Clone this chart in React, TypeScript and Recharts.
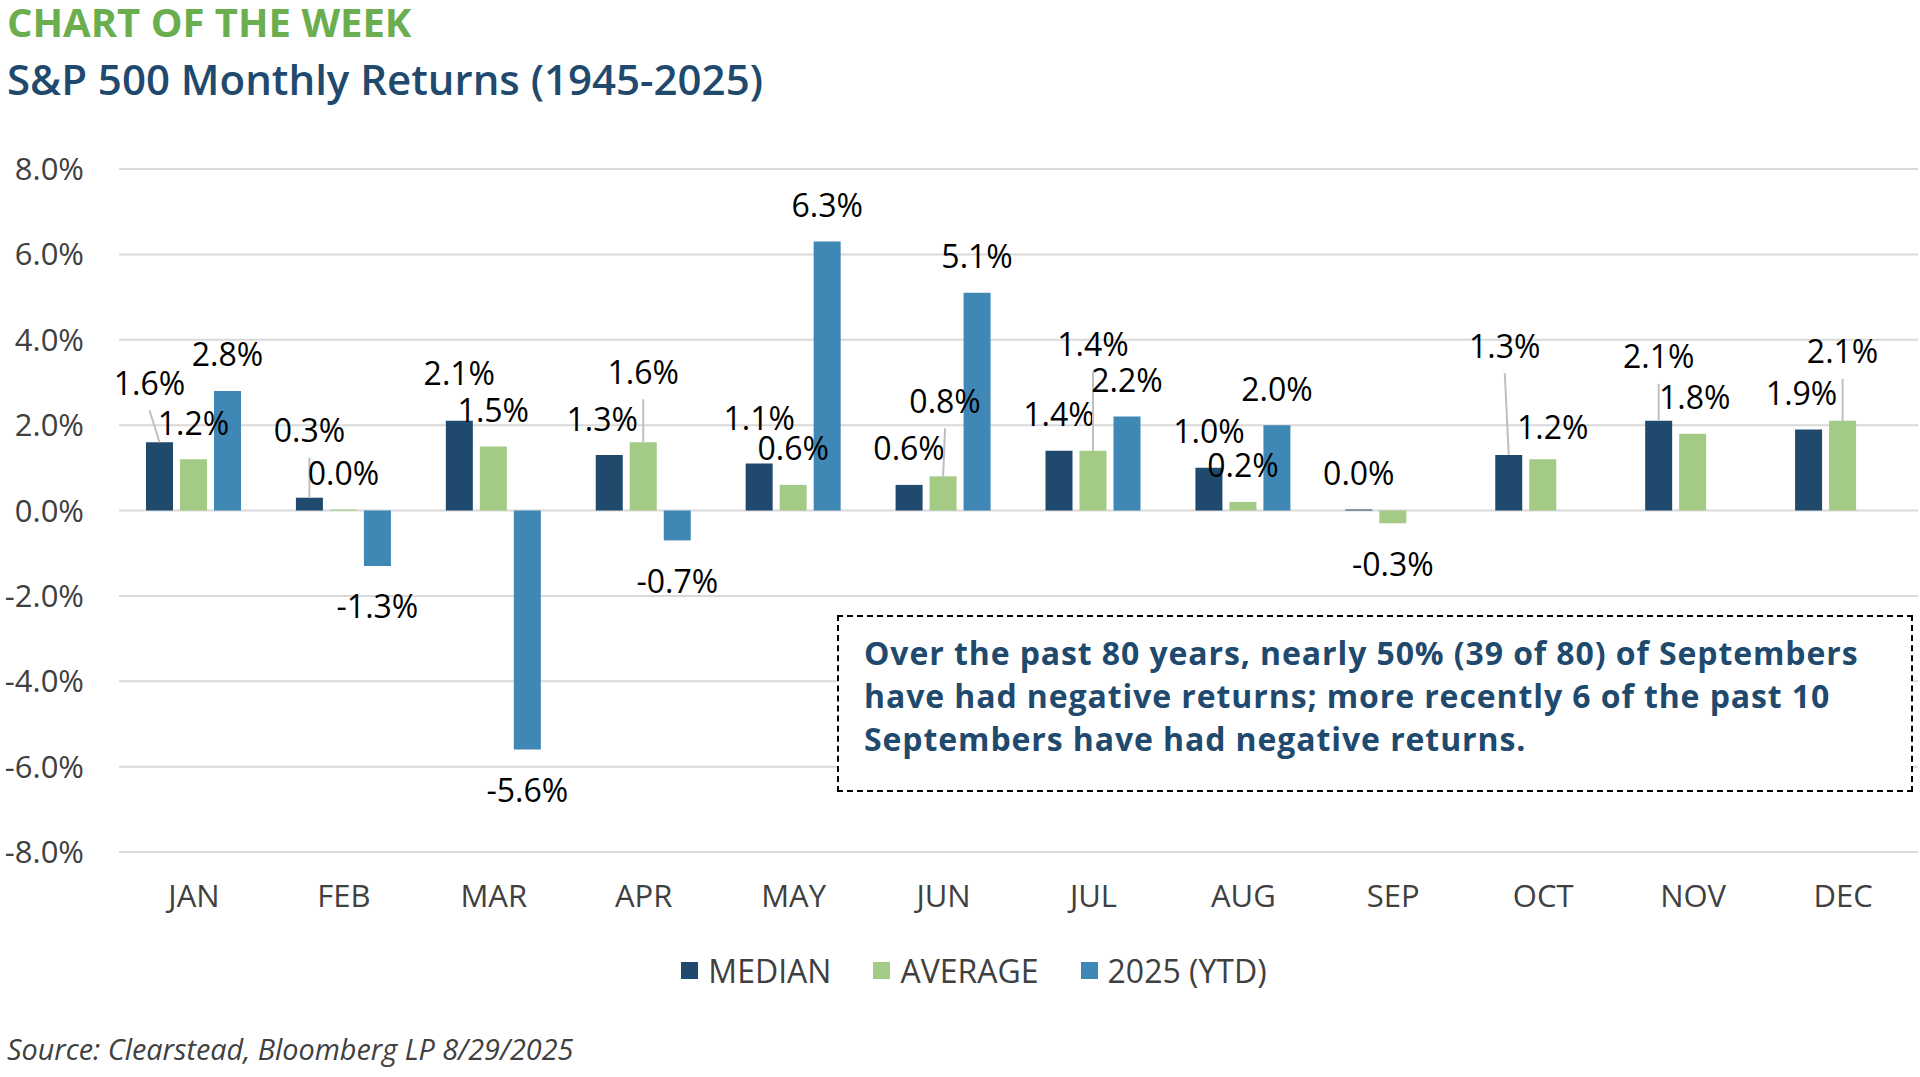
import { BarChart, Bar, XAxis, YAxis, CartesianGrid, Legend, LabelList } from "recharts";

const months = ["JAN", "FEB", "MAR", "APR", "MAY", "JUN", "JUL", "AUG", "SEP", "OCT", "NOV", "DEC"];
const medianReturns = [1.6, 0.3, 2.1, 1.3, 1.1, 0.6, 1.4, 1.0, 0.0, 1.3, 2.1, 1.9];
const averageReturns = [1.2, 0.0, 1.5, 1.6, 0.6, 0.8, 1.4, 0.2, -0.3, 1.2, 1.8, 2.1];
const ytdReturns = [2.8, -1.3, -5.6, -0.7, 6.3, 5.1, 2.2, 2.0, null, null, null, null];
const seriesNames = ["MEDIAN", "AVERAGE", "2025 (YTD)"];
const yTicks = [-8, -6, -4, -2, 0, 2, 4, 6, 8];

// manual label nudges (like moved labels in the source), [dx, dy]
const medianShift = [[-10, -23], [0, -31], [0, -11], [-7, 0], [0, -9], [0, 0], [0, 0], [0, 0], [0, 0], [-4, -73], [0, -28], [-7, 0]];
const averageShift = [[0, 0], [0, 0], [0, 0], [0, -34], [0, 0], [2, -39], [0, -70], [0, 0], [0, 0], [10, 4], [2, 0], [0, -33]];
const ytdShift = months.map(() => [0, 0]);

const data = months.map((m, i) => ({
  month: m,
  median: medianReturns[i],
  average: averageReturns[i],
  ytd: ytdReturns[i],
}));

const NAVY = "#1f4a6e";
const GREEN = "#a3cb86";
const BLUE = "#3f87b4";
const FONT = "'Open Sans', sans-serif";

function makeLabel(shift: number[][]) {
  return (props: any) => {
    const { x, y, width, height, value, index } = props;
    if (value === null || value === undefined) return null;
    const [dx, dy] = shift[index] || [0, 0];
    const top = Math.min(y, y + height);
    const bottom = Math.max(y, y + height);
    const bx = x + width / 2;
    const cx = bx + dx;
    const cy = value < 0 ? bottom + 40 + dy : top - 37 + dy;
    return (
      <g>
        {dy < -15 && (
          <line x1={cx} y1={cy + 28} x2={bx} y2={top} stroke="#bfbfbf" strokeWidth={2} />
        )}
        <text x={cx} y={cy} textAnchor="middle" dominantBaseline="central" fontSize={32} fontFamily={FONT} fill="#000">
          {Number(value).toFixed(1)}%
        </text>
      </g>
    );
  };
}

function renderLegend(props: any) {
  const items = [...(props.payload || [])].sort(
    (a: any, b: any) => seriesNames.indexOf(a.value) - seriesNames.indexOf(b.value)
  );
  return (
    <div style={{ display: "flex", justifyContent: "center", alignItems: "center", height: 44, paddingLeft: 30, fontFamily: FONT, fontSize: 32, color: "#404040" }}>
      {items.map((p: any, i: number) => (
        <div key={i} style={{ display: "flex", alignItems: "center", marginRight: i < items.length - 1 ? 42 : 0 }}>
          <span style={{ width: 17, height: 17, background: p.color, display: "inline-block", marginRight: 10 }} />
          <span>{p.value}</span>
        </div>
      ))}
    </div>
  );
}

export default function App() {
  return (
    <div style={{ position: "absolute", top: 0, left: 0, width: 1920, height: 1077, background: "#fff", overflow: "hidden" }}>
      <div style={{ position: "absolute", left: 7, top: 1, fontFamily: FONT, fontWeight: 700, fontSize: 40, color: "#6aae4f", lineHeight: "42px" }}>
        CHART OF THE WEEK
      </div>
      <div style={{ position: "absolute", left: 7, top: 52, fontFamily: FONT, fontWeight: 600, fontSize: 42, color: NAVY, lineHeight: "54px" }}>
        S&amp;P 500 Monthly Returns (1945-2025)
      </div>

      <div style={{ position: "absolute", left: 0, top: 0 }}>
        <BarChart width={1920} height={1077} data={data} margin={{ top: 169, right: 2, bottom: 85, left: 0 }} barSize={27} barGap={7}>
          <CartesianGrid vertical={false} stroke="#d9d9d9" strokeWidth={2} />
          <XAxis dataKey="month" axisLine={false} tickLine={false} tickSize={0} tickMargin={33} height={96}
            tick={{ fontSize: 31, fontFamily: FONT, fill: "#404040" }} />
          <YAxis domain={[-8, 8]} ticks={yTicks} axisLine={false} tickLine={false} tickSize={0} tickMargin={35} width={119}
            tickFormatter={(v: number) => v.toFixed(1) + "%"} tick={{ fontSize: 31, fontFamily: FONT, fill: "#404040" }} />
          <Legend verticalAlign="bottom" content={renderLegend} />
          <Bar dataKey="median" name={seriesNames[0]} fill={NAVY} minPointSize={1} isAnimationActive={false}>
            <LabelList dataKey="median" content={makeLabel(medianShift)} />
          </Bar>
          <Bar dataKey="average" name={seriesNames[1]} fill={GREEN} minPointSize={1} isAnimationActive={false}>
            <LabelList dataKey="average" content={makeLabel(averageShift)} />
          </Bar>
          <Bar dataKey="ytd" name={seriesNames[2]} fill={BLUE} isAnimationActive={false}>
            <LabelList dataKey="ytd" content={makeLabel(ytdShift)} />
          </Bar>
        </BarChart>
      </div>

      <div style={{ position: "absolute", left: 837, top: 615, width: 1076, height: 177, boxSizing: "border-box", border: "2px dashed #000", padding: "14px 0 0 25px", background: "#fff", fontFamily: FONT, fontWeight: 700, fontSize: 32, letterSpacing: 0.9, lineHeight: "43px", color: NAVY, whiteSpace: "nowrap" }}>
        Over the past 80 years, nearly 50% (39 of 80) of Septembers<br />
        have had negative returns; more recently 6 of the past 10<br />
        Septembers have had negative returns.
      </div>

      <div style={{ position: "absolute", left: 7, top: 1030, fontFamily: FONT, fontStyle: "italic", fontSize: 28.8, color: "#404040", lineHeight: "38px" }}>
        Source: Clearstead, Bloomberg LP 8/29/2025
      </div>
    </div>
  );
}
